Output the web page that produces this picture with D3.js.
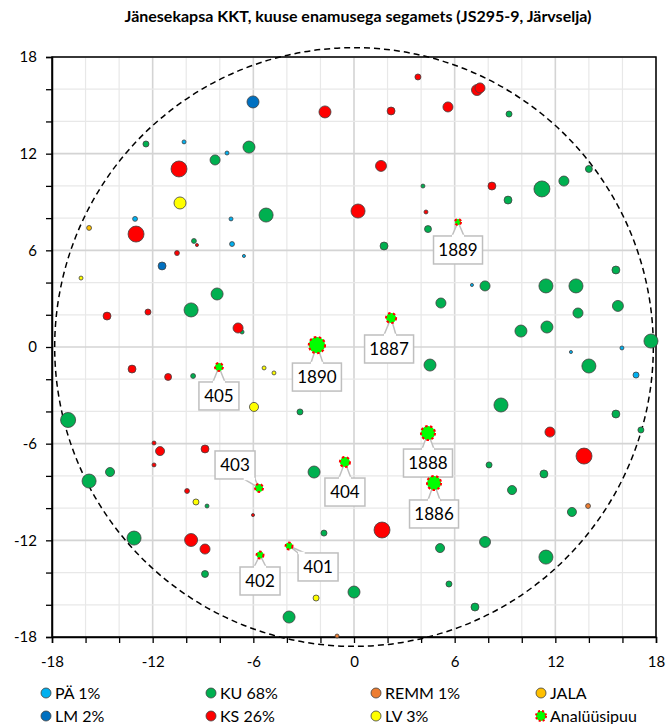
<!DOCTYPE html>
<html lang="et">
<head>
<meta charset="UTF-8" />
<title>Jänesekapsa KKT</title>
<script src="https://cdn.jsdelivr.net/npm/d3@7"></script>
<style>
  body { margin: 0; background: #fff; }
  text { font-family: Lato, "Open Sans", sans-serif; fill: #000; }
</style>
</head>
<body>
<script>
// tree positions [x m, y m, diameter cm] per species
var paTrees = [[-10.13,12.73,3.3],[-7.57,12.04,3.3],[-13.05,7.95,5],[-7.33,7.95,3.3],[-7.27,6.39,5],
  [-6.56,5.65,2],[7.03,3.85,2],[12.93,-0.31,2],[15.97,-0.06,3.3],[16.81,-1.74,7.5]];
var lmTrees = [[-6.02,15.21,30],[-11.44,5.03,13]];
var kuTrees = [[-12.40,12.60,7.5],[-8.28,11.61,21],[-6.26,12.41,30],[-5.24,8.19,41],[-9.54,6.58,5],
  [-8.16,3.29,30],[-9.71,2.30,41],[-6.67,0.93,3.3],[-9.59,-1.80,5],[-17.04,-4.53,47],
  [-14.54,-7.76,17],[-15.79,-8.32,41],[-8.76,-9.87,3.3],[-13.11,-11.86,41],[-8.88,-14.09,10],
  [-3.22,-4.03,7.5],[-2.38,-7.76,30],[-1.79,-11.55,7.5],[0.0,-15.21,30],[-3.87,-16.76,30],
  [1.79,6.27,13],[4.11,9.99,3.3],[4.41,7.32,10],[5.18,2.73,21],[4.53,-1.12,30],
  [9.24,14.46,7.5],[14.0,11.05,10],[9.18,9.12,13],[11.20,9.81,53],[12.51,10.30,21],
  [15.61,4.78,13],[7.81,3.79,21],[11.44,3.79,41],[13.23,3.79,41],[15.73,2.55,25],
  [13.35,2.11,21],[9.95,0.99,30],[11.50,1.24,30],[17.70,0.37,41],[14.0,-1.18,41],
  [8.76,-3.60,41],[15.61,-4.16,13],[17.10,-5.15,7.5],[8.05,-7.32,7.5],[11.32,-7.88,13],
  [9.42,-8.88,17],[12.99,-10.24,17],[7.81,-12.10,25],[11.44,-13.04,41],[5.13,-12.48,17],
  [5.66,-14.71,7.5],[7.21,-16.14,13]];
var ksTrees = [[3.81,16.76,7.5],[-1.73,14.59,30],[2.21,14.65,13],[5.60,14.90,21],[7.33,15.95,25],
  [7.51,16.08,21],[-10.43,11.05,53],[1.61,11.24,25],[-12.99,7.01,53],[0.24,8.44,41],
  [4.29,8.38,3.3],[-9.36,6.33,2],[-10.55,5.83,5],[8.22,9.99,13],[-14.72,1.92,13],
  [-12.28,2.17,7.5],[-6.91,1.18,21],[-13.23,-1.37,13],[-11.08,-1.86,10],[-11.92,-5.96,3.3],
  [-11.56,-6.46,17],[-11.92,-7.32,3.3],[-8.88,-6.33,13],[-9.95,-8.94,5],[-9.71,-11.98,35],
  [-8.88,-12.54,21],[-6.02,-10.43,2],[1.67,-11.36,53],[11.68,-5.28,21],[13.71,-6.77,53]];
var remmTrees = [[13.95,-9.87,5],[-1.01,-17.94,3.3]];
var jalaTrees = [[-15.79,7.39,5]];
var lvTrees = [[-10.37,8.94,30],[-16.27,4.28,3.3],[-5.36,-1.30,3.3],[-4.77,-1.61,3.3],
  [-5.96,-3.72,17],[-9.42,-9.62,7.5],[-2.26,-15.58,7.5]];
// analysis trees [x, y, diameter, id]
var analysisTrees = [[6.20,7.76,7.5,"1889"],[2.21,1.80,21,"1887"],[-2.21,0.12,55,"1890"],
  [-8.05,-1.24,13,"405"],[4.41,-5.34,41,"1888"],[-5.66,-8.75,13,"403"],[-0.54,-7.14,21,"404"],
  [4.77,-8.44,41,"1886"],[-3.87,-12.35,10,"401"],[-5.60,-12.91,10,"402"]];

var legendNames = ["PÄ 1%","LM 2%","KU 68%","KS 26%","REMM 1%","LV 3%","JALA","Analüüsipuu"];
var plotRadius = 17.84;
var tickValues = d3.range(-18, 19, 2);
var title = "Jänesekapsa KKT, kuuse enamusega segamets (JS295-9, Järvselja)";

// label box offsets (px, box centre relative to tree)
var labelOffset = {"1889":[0,28],"1887":[-2,31],"1890":[0,32],"405":[0,29],"1888":[0,30],
  "403":[-24,-23],"404":[0,30],"1886":[0,31],"401":[29,21],"402":[0,26]};

var series = [
  {name: legendNames[0], data: paTrees, fill: "#00B0F0"},
  {name: legendNames[1], data: lmTrees, fill: "#0070C0"},
  {name: legendNames[2], data: kuTrees, fill: "#00B050"},
  {name: legendNames[3], data: ksTrees, fill: "#FF0000"},
  {name: legendNames[4], data: remmTrees, fill: "#ED7D31"},
  {name: legendNames[5], data: lvTrees, fill: "#FFFF00"},
  {name: legendNames[6], data: jalaTrees, fill: "#FFC000"}
];

var width = 668, height = 724;
var svg = d3.select("body").append("svg").attr("width", width).attr("height", height);

var x = d3.scaleLinear().domain([-18, 18]).range([52, 656]);
var y = d3.scaleLinear().domain([-18, 18]).range([637, 57]);
var r = d3.scaleSqrt().domain([0, 60]).range([0, 8.5]);

svg.append("text")
  .attr("x", 358).attr("y", 22)
  .attr("text-anchor", "middle")
  .style("font-size", "16px").style("font-weight", "bold")
  .text(title);

// grid
var grid = svg.append("g");
grid.selectAll("line.v").data(tickValues).enter().append("line")
  .attr("x1", d => x(d)).attr("x2", d => x(d))
  .attr("y1", y(-18)).attr("y2", y(18))
  .attr("stroke", d => d % 6 === 0 ? "#D4D4D4" : "#E8E8E8")
  .attr("stroke-width", d => d % 6 === 0 ? 1.6 : 1.2);
grid.selectAll("line.h").data(tickValues).enter().append("line")
  .attr("y1", d => y(d)).attr("y2", d => y(d))
  .attr("x1", x(-18)).attr("x2", x(18))
  .attr("stroke", d => d % 6 === 0 ? "#D4D4D4" : "#E8E8E8")
  .attr("stroke-width", d => d % 6 === 0 ? 1.6 : 1.2);

svg.append("rect")
  .attr("x", x(-18)).attr("y", y(18))
  .attr("width", x(18) - x(-18)).attr("height", y(-18) - y(18))
  .attr("fill", "none").attr("stroke", "#000").attr("stroke-width", 1.5);

// axes
var fmt = d => d % 6 === 0 ? String(d) : "";
var xAxis = svg.append("g").attr("transform", "translate(0," + y(-18) + ")")
  .call(d3.axisBottom(x).tickValues(tickValues).tickFormat(fmt).tickSize(6).tickPadding(13));
var yAxis = svg.append("g").attr("transform", "translate(" + x(-18) + ",0)")
  .call(d3.axisLeft(y).tickValues(tickValues).tickFormat(fmt).tickSize(6).tickPadding(9));
[xAxis, yAxis].forEach(function (a) {
  a.select(".domain").attr("stroke", "#000").attr("stroke-width", 1.5);
  a.selectAll(".tick line").attr("stroke", "#000").attr("stroke-width", 1.3);
  a.selectAll(".tick text").style("font-size", "15px").style("font-family", "Lato, sans-serif").attr("fill", "#000");
});

// plot circle
svg.append("circle")
  .attr("cx", x(0)).attr("cy", y(0))
  .attr("r", x(plotRadius) - x(0))
  .attr("fill", "none").attr("stroke", "#000")
  .attr("stroke-width", 1.5).attr("stroke-dasharray", "6,4");

// trees
series.forEach(function (s) {
  svg.append("g").selectAll("circle").data(s.data).enter().append("circle")
    .attr("cx", d => x(d[0])).attr("cy", d => y(d[1]))
    .attr("r", d => r(d[2]))
    .attr("fill", s.fill).attr("stroke", "#404040").attr("stroke-width", 0.8);
});

// analysis trees with callouts
var labels = svg.append("g");
analysisTrees.forEach(function (d) {
  var px = x(d[0]), py = y(d[1]);
  var off = labelOffset[d[3]];
  var cx = px + off[0], cy = py + off[1];
  var bw = d[3].length > 3 ? 49 : 40, bh = 28;
  // base of wedge on the box edge toward the tree
  var dx = px - cx, dy = py - cy;
  var t = Math.min((bw / 2) / Math.abs(dx || 1e-6), (bh / 2) / Math.abs(dy || 1e-6));
  var bx = cx + dx * t, by = cy + dy * t;
  var horiz = (bh / 2) / Math.abs(dy || 1e-6) <= (bw / 2) / Math.abs(dx || 1e-6);
  var b1 = horiz ? [bx - 6, by] : [bx, by - 6];
  var b2 = horiz ? [bx + 6, by] : [bx, by + 6];
  if (horiz) { b1[0] = Math.max(b1[0], cx - bw / 2); b2[0] = Math.min(b2[0], cx + bw / 2); }
  else { b1[1] = Math.max(b1[1], cy - bh / 2); b2[1] = Math.min(b2[1], cy + bh / 2); }
  labels.append("rect")
    .attr("x", cx - bw / 2).attr("y", cy - bh / 2)
    .attr("width", bw).attr("height", bh)
    .attr("fill", "#fff").attr("stroke", "#BFBFBF").attr("stroke-width", 1.5);
  labels.append("path")
    .attr("d", "M" + b1 + "L" + px + "," + py + "L" + b2)
    .attr("fill", "#fff").attr("stroke", "#BFBFBF").attr("stroke-width", 1.5);
  labels.append("path")
    .attr("d", "M" + b1 + "L" + b2)
    .attr("stroke", "#fff").attr("stroke-width", 2.5);
  labels.append("text")
    .attr("x", cx).attr("y", cy + 6)
    .attr("text-anchor", "middle")
    .style("font-size", "17px")
    .text(d[3]);
});
svg.append("g").selectAll("circle").data(analysisTrees).enter().append("circle")
  .attr("cx", d => x(d[0])).attr("cy", d => y(d[1]))
  .attr("r", d => r(d[2]))
  .attr("fill", "#00FF00").attr("stroke", "#FF0000")
  .attr("stroke-width", 2).attr("stroke-dasharray", "2.5,2.5");

// legend
var legendItems = [
  {name: legendNames[0], fill: "#00B0F0"}, {name: legendNames[2], fill: "#00B050"},
  {name: legendNames[4], fill: "#ED7D31"}, {name: legendNames[6], fill: "#FFC000"},
  {name: legendNames[1], fill: "#0070C0"}, {name: legendNames[3], fill: "#FF0000"},
  {name: legendNames[5], fill: "#FFFF00"}, {name: legendNames[7], fill: "#00FF00", analysis: true}
];
var legend = svg.append("g").selectAll("g").data(legendItems).enter().append("g")
  .attr("transform", (d, i) => "translate(" + (46 + (i % 4) * 165) + "," + (i < 4 ? 693 : 716) + ")");
legend.append("circle")
  .attr("r", 5)
  .attr("fill", d => d.fill)
  .attr("stroke", d => d.analysis ? "#FF0000" : "#404040")
  .attr("stroke-width", d => d.analysis ? 2 : 0.8)
  .attr("stroke-dasharray", d => d.analysis ? "2,2" : null);
legend.append("text")
  .attr("x", 9).attr("y", 5.5)
  .style("font-size", "16px")
  .text(d => d.name);
</script>
</body>
</html>
